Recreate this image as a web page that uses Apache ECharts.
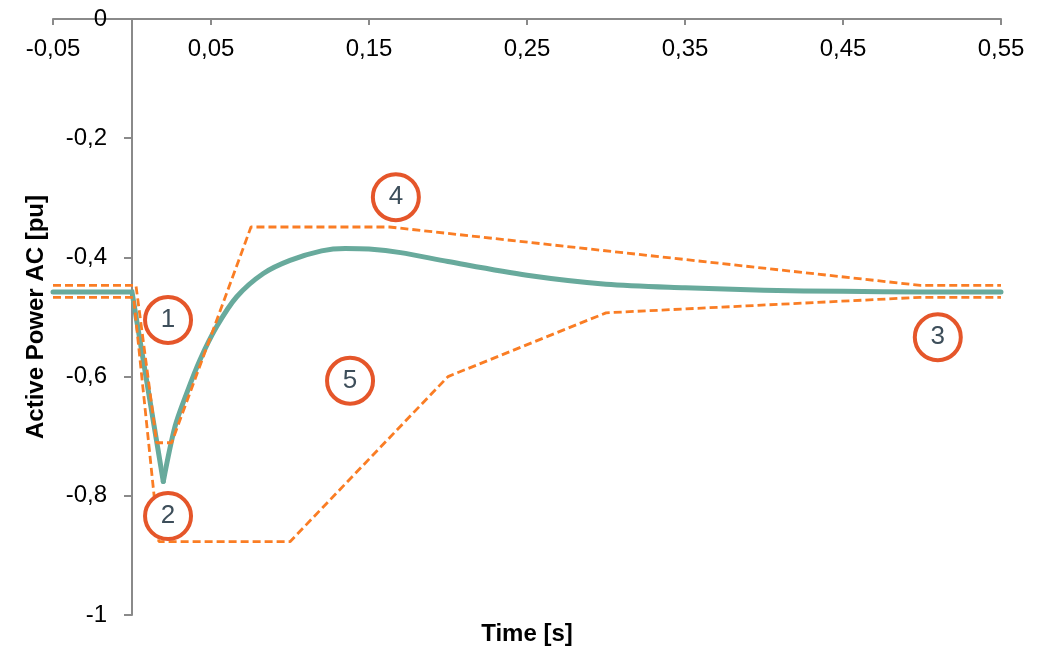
<!DOCTYPE html>
<html>
<head>
<meta charset="utf-8">
<script src="https://cdn.jsdelivr.net/npm/echarts@6/dist/echarts.min.js"></script>
<style>
html,body{margin:0;padding:0;background:#fff;}
#chart{width:1048px;height:651px;}
</style>
</head>
<body>
<div id="chart"></div>
<script>
// Measured response (green): drop part and recovery part
const dropT  = [-0.05, 0.0, 0.0198];
const dropP  = [-0.458, -0.458, -0.776];
const recT   = [0.0198, 0.0272, 0.0346, 0.043, 0.0536, 0.0663, 0.0831, 0.1, 0.12, 0.135, 0.15, 0.17, 0.2, 0.25, 0.3, 0.35, 0.4, 0.45, 0.5, 0.55];
const recP   = [-0.776, -0.684, -0.628, -0.572, -0.516, -0.466, -0.427, -0.405, -0.389, -0.385, -0.386, -0.392, -0.407, -0.43, -0.445, -0.451, -0.455, -0.457, -0.458, -0.458];
// Upper envelope (orange dashed)
const upperT = [-0.05, 0.0025, 0.0156, 0.0251, 0.0753, 0.163, 0.499, 0.55];
const upperP = [-0.447, -0.447, -0.711, -0.711, -0.349, -0.349, -0.447, -0.447];
// Lower envelope (orange dashed)
const lowerT = [-0.05, 0.001, 0.017, 0.1, 0.2, 0.3, 0.499, 0.55];
const lowerP = [-0.467, -0.467, -0.877, -0.877, -0.6, -0.493, -0.467, -0.467];
// Circled annotations
const annLabels = ['1', '2', '3', '4', '5'];
const annT = [0.0228, 0.0228, 0.510, 0.167, 0.138];
const annP = [-0.505, -0.834, -0.534, -0.299, -0.607];
// Axis settings
const xMin = -0.05, xMax = 0.55, xStep = 0.1;
const yMin = -1, yMax = 0, yStep = 0.2;

const zip = (a, b) => a.map((v, i) => [v, b[i]]);
const fmtX = v => (Math.round(v * 100) / 100).toFixed(2).replace('.', ',');
const fmtY = v => { const r = Math.round(v * 10) / 10; if (r === 0) return '0'; if (Number.isInteger(r)) return String(r); return r.toFixed(1).replace('.', ','); };

const FONT = "'Liberation Sans', Arial, sans-serif";
const axisGray = '#8a8a8a';
const orange = '#fa7d24';
const green = '#68aa9c';

const chart = echarts.init(document.getElementById('chart'), null, {renderer: 'canvas'});
chart.setOption({
  animation: false,
  backgroundColor: '#ffffff',
  textStyle: {fontFamily: FONT},
  grid: {left: 53, right: 47, top: 19, bottom: 36, containLabel: false, outerBoundsMode: 'none'},
  xAxis: [{
    type: 'value', min: xMin, max: xMax, interval: xStep, position: 'top',
    axisLine: {show: true, onZero: false, lineStyle: {color: axisGray, width: 2}},
    axisTick: {show: true, inside: true, length: 6, lineStyle: {color: axisGray, width: 2}},
    axisLabel: {inside: true, formatter: fmtX, fontFamily: FONT, fontSize: 24, color: '#000', margin: 18},
    splitLine: {show: false}
  }, {
    type: 'value', min: xMin, max: xMax, interval: xStep, position: 'bottom',
    name: 'Time [s]', nameLocation: 'middle', nameGap: 7,
    nameTextStyle: {fontFamily: FONT, fontSize: 24, fontWeight: 'bold', color: '#000'},
    axisLine: {show: false, onZero: false}, axisTick: {show: false},
    axisLabel: {show: false}, splitLine: {show: false}
  }],
  yAxis: {
    type: 'value', min: yMin, max: yMax, interval: yStep, position: 'left', offset: -79,
    name: 'Active Power AC [pu]', nameLocation: 'middle', nameGap: 84,
    nameTextStyle: {fontFamily: FONT, fontSize: 24, fontWeight: 'bold', color: '#000'},
    axisLine: {show: true, onZero: false, lineStyle: {color: axisGray, width: 2}},
    axisTick: {show: true, length: 8, lineStyle: {color: axisGray, width: 2}},
    axisLabel: {formatter: fmtY, fontFamily: FONT, fontSize: 24, color: '#000', margin: 25},
    splitLine: {show: false}
  },
  series: [
    {type: 'line', data: zip(dropT, dropP), showSymbol: false, symbol: 'none', z: 2,
     lineStyle: {color: green, width: 5, join: 'miter', cap: 'round'}},
    {type: 'line', data: zip(recT, recP), showSymbol: false, symbol: 'none', z: 2, smooth: 0.3,
     lineStyle: {color: green, width: 5, join: 'round', cap: 'round'}},
    {type: 'line', data: zip(upperT, upperP), showSymbol: false, symbol: 'none', z: 3,
     lineStyle: {color: orange, width: 2.8, type: [8, 4]}},
    {type: 'line', data: zip(lowerT, lowerP), showSymbol: false, symbol: 'none', z: 3,
     lineStyle: {color: orange, width: 2.8, type: [8, 4]}},
    {type: 'scatter', z: 5, symbol: 'circle', symbolSize: 46, silent: true,
     data: annT.map((t, i) => ({value: [t, annP[i]], name: annLabels[i]})),
     itemStyle: {color: '#ffffff', borderColor: '#e5562a', borderWidth: 4, opacity: 1},
     label: {show: true, position: 'inside', formatter: '{b}', fontFamily: FONT, fontSize: 26, color: '#3d4e5a'}}
  ]
});
</script>
</body>
</html>
